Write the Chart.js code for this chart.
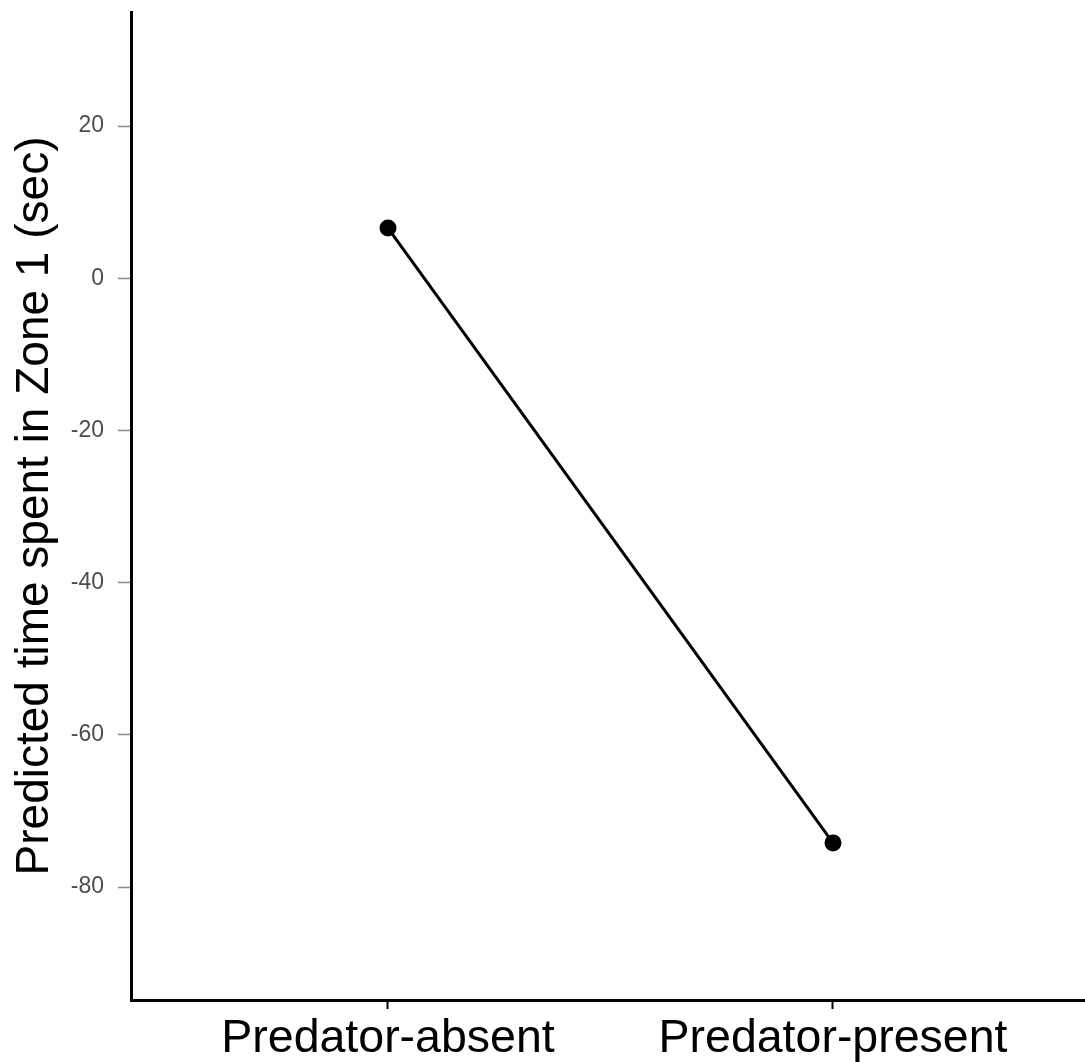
<!DOCTYPE html>
<html lang="en">
<head>
    <meta charset="UTF-8">
    <title>Predicted time spent in Zone 1</title>
    <script src="https://cdn.jsdelivr.net/npm/chart.js"></script>
    <style>
        body {
            margin: 0;
            padding: 0;
            background: #fff;
        }

        .chart-box {
            width: 1085px;
            height: 1062px;
        }
    </style>
</head>
<body>
    <div class="chart-box">
        <canvas id="zoneChart"></canvas>
    </div>

    <script>
        // data
        const categories = ['Predator-absent', 'Predator-present'];
        const predictedTime = [6.6, -74.2];
        const yTicks = [-80, -60, -40, -20, 0, 20];

        const points = categories.map((c, i) => ({ x: i + 1, y: predictedTime[i] }));

        const ctx = document.getElementById('zoneChart').getContext('2d');
        new Chart(ctx, {
            type: 'line',
            data: {
                datasets: [{
                    data: points,
                    borderColor: '#000',
                    borderWidth: 3,
                    backgroundColor: '#000',
                    pointRadius: 8.5,
                    pointHoverRadius: 8.5,
                    pointBorderWidth: 0,
                    tension: 0
                }]
            },
            options: {
                responsive: true,
                maintainAspectRatio: false,
                animation: false,
                layout: { autoPadding: false, padding: { top: 12, right: 0, left: 0, bottom: 0 } },
                plugins: {
                    legend: { display: false },
                    tooltip: { enabled: false }
                },
                scales: {
                    x: {
                        type: 'linear',
                        min: 0.4225,
                        max: 2.5663,
                        afterBuildTicks: scale => {
                            scale.ticks = categories.map((c, i) => ({ value: i + 1 }));
                        },
                        afterFit: scale => {
                            scale.height = 62;
                            scale.paddingLeft = 0;
                            scale.paddingRight = 0;
                        },
                        border: { display: true, color: '#000', width: 3 },
                        grid: {
                            drawOnChartArea: false,
                            drawTicks: true,
                            tickLength: 9,
                            tickColor: '#000',
                            tickWidth: 2
                        },
                        ticks: {
                            color: '#000',
                            padding: 2,
                            maxRotation: 0,
                            font: { family: 'Liberation Sans, Arial, sans-serif', size: 46.5 },
                            callback: v => categories[v - 1] || ''
                        }
                    },
                    y: {
                        min: -94.85,
                        max: 35,
                        afterBuildTicks: scale => {
                            scale.ticks = yTicks.map(v => ({ value: v }));
                        },
                        afterFit: scale => {
                            scale.width = 131;
                            // ticks sit well inside the axis, no need for label room at the ends
                            scale.paddingTop = 0;
                            scale.paddingBottom = 0;
                        },
                        border: { display: true, color: '#000', width: 3 },
                        grid: {
                            drawOnChartArea: false,
                            drawTicks: true,
                            tickLength: 13,
                            tickColor: '#8a8a8a',
                            tickWidth: 1.5
                        },
                        ticks: {
                            color: '#4d4d4d',
                            padding: 14,
                            font: { family: 'Liberation Sans, Arial, sans-serif', size: 23 }
                        },
                        title: {
                            display: true,
                            text: 'Predicted time spent in Zone 1 (sec)',
                            color: '#000',
                            padding: { top: 8, bottom: 0 },
                            font: { family: 'Liberation Sans, Arial, sans-serif', size: 46 }
                        }
                    }
                }
            }
        });
    </script>
</body>
</html>
